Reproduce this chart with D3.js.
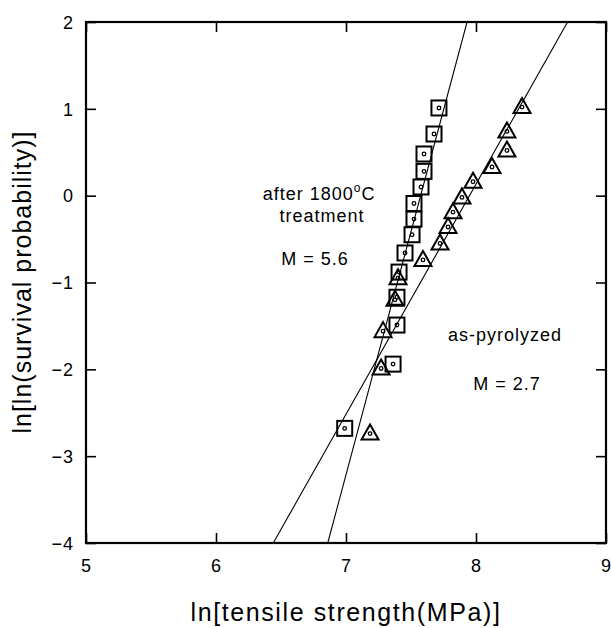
<!DOCTYPE html>
<html>
<head>
<meta charset="utf-8">
<script src="https://cdn.jsdelivr.net/npm/d3@7"></script>
<style>
  body { margin: 0; background: #fff; }
  text { font-family: "Liberation Sans", Arial, sans-serif; fill: #000; }
</style>
</head>
<body>
<div id="chart"></div>
<script>
// after 1800C treatment (squares)
var sqX = [7.715, 7.677, 7.60, 7.60, 7.577, 7.523, 7.523, 7.508, 7.454, 7.408, 7.392, 7.392, 7.362, 6.99];
var sqY = [1.01, 0.71, 0.48, 0.28, 0.10, -0.09, -0.27, -0.45, -0.66, -0.88, -1.17, -1.49, -1.94, -2.68];
// as-pyrolyzed (triangles)
var triX = [8.354, 8.238, 8.238, 8.123, 7.977, 7.892, 7.823, 7.785, 7.723, 7.592, 7.40, 7.377, 7.285, 7.27, 7.185];
var triY = [1.02, 0.74, 0.52, 0.33, 0.16, -0.02, -0.19, -0.36, -0.55, -0.74, -0.95, -1.20, -1.56, -1.99, -2.74];
// weibull fit lines: y = M * (x - x0)
var fitM = [5.6, 2.65];
var fitX0 = [7.574, 7.95];
var xTicks = [5, 6, 7, 8, 9];
var yTicks = [2, 1, 0, -1, -2, -3, -4];

var W = 611, H = 628;
var pL = 86, pR = 606, pT = 22, pB = 543;

var svg = d3.select("#chart").append("svg")
  .attr("width", W)
  .attr("height", H);

var x = d3.scaleLinear().domain([5, 9]).range([pL, pR]);
var y = d3.scaleLinear().domain([-4, 2]).range([pB, pT]);

svg.append("clipPath").attr("id", "clip")
  .append("rect")
  .attr("x", pL).attr("y", pT)
  .attr("width", pR - pL).attr("height", pB - pT);

// fit lines
var lines = svg.append("g").attr("clip-path", "url(#clip)");
for (var i = 0; i < fitM.length; i++) {
  var x1 = fitX0[i] + (-4) / fitM[i];
  var x2 = fitX0[i] + 2 / fitM[i];
  lines.append("line")
    .attr("x1", x(x1)).attr("y1", y(-4))
    .attr("x2", x(x2)).attr("y2", y(2))
    .attr("stroke", "#000")
    .attr("stroke-width", 1.1);
}

// axes, ticks inward on all four sides
var tickFmt = d3.format("d");
var axB = svg.append("g").attr("transform", "translate(0," + pB + ")")
  .call(d3.axisBottom(x).tickValues(xTicks).tickSize(-10).tickPadding(16).tickFormat(tickFmt));
var axT = svg.append("g").attr("transform", "translate(0," + pT + ")")
  .call(d3.axisTop(x).tickValues(xTicks).tickSize(-10).tickFormat(""));
var axL = svg.append("g").attr("transform", "translate(" + pL + ",0)")
  .call(d3.axisLeft(y).tickValues(yTicks).tickSize(-10).tickPadding(12).tickFormat(tickFmt));
var axR = svg.append("g").attr("transform", "translate(" + pR + ",0)")
  .call(d3.axisRight(y).tickValues(yTicks).tickSize(-10).tickFormat(""));

[axB, axT, axL, axR].forEach(function(a) {
  a.select(".domain").remove();
  a.selectAll(".tick line").attr("stroke", "#000").attr("stroke-width", 1.6);
  a.selectAll("text")
    .style("font-family", "'Liberation Sans', Arial, sans-serif")
    .style("font-size", "18px")
    .style("letter-spacing", "1px")
    .attr("fill", "#000");
});
axL.selectAll("text").attr("dy", "0.35em");

svg.append("rect")
  .attr("x", pL).attr("y", pT)
  .attr("width", pR - pL).attr("height", pB - pT)
  .attr("fill", "none")
  .attr("stroke", "#000")
  .attr("stroke-width", 2.2);

// squares
var sq = svg.append("g");
for (var i = 0; i < sqX.length; i++) {
  sq.append("rect")
    .attr("x", x(sqX[i]) - 7.5).attr("y", y(sqY[i]) - 7.5)
    .attr("width", 15).attr("height", 15)
    .attr("fill", "none").attr("stroke", "#000").attr("stroke-width", 2);
  sq.append("circle")
    .attr("cx", x(sqX[i])).attr("cy", y(sqY[i])).attr("r", 1.8)
    .attr("fill", "none").attr("stroke", "#000").attr("stroke-width", 1.3);
}

// triangles
var tri = svg.append("g");
for (var i = 0; i < triX.length; i++) {
  var cx = x(triX[i]), cy = y(triY[i]);
  tri.append("path")
    .attr("d", "M" + cx + "," + (cy - 9) + "L" + (cx + 8.5) + "," + (cy + 6) + "L" + (cx - 8.5) + "," + (cy + 6) + "Z")
    .attr("fill", "none").attr("stroke", "#000").attr("stroke-width", 2).attr("stroke-linejoin", "miter");
  tri.append("circle")
    .attr("cx", cx).attr("cy", cy).attr("r", 1.8)
    .attr("fill", "none").attr("stroke", "#000").attr("stroke-width", 1.3);
}

// annotations
function label(tx, ty, str) {
  return svg.append("text")
    .attr("x", tx).attr("y", ty)
    .attr("text-anchor", "middle")
    .style("font-size", "18px")
    .style("letter-spacing", "1px")
    .text(str);
}
var t1 = label(319, 200, "after 1800");
t1.append("tspan").attr("dy", -8).style("font-size", "12px").text("o");
t1.append("tspan").attr("dy", 8).text("C");
label(322, 222, "treatment");
label(315, 265, "M = 5.6");
label(505, 341, "as-pyrolyzed");
label(507, 390, "M = 2.7");

// axis titles
svg.append("text")
  .attr("x", 346).attr("y", 621)
  .attr("text-anchor", "middle")
  .style("font-size", "25px")
  .style("letter-spacing", "1.6px")
  .text("ln[tensile strength(MPa)]");

svg.append("text")
  .attr("transform", "translate(31,282) rotate(-90)")
  .attr("text-anchor", "middle")
  .style("font-size", "25px")
  .style("letter-spacing", "1px")
  .text("ln[ln(survival probability)]");
</script>
</body>
</html>
